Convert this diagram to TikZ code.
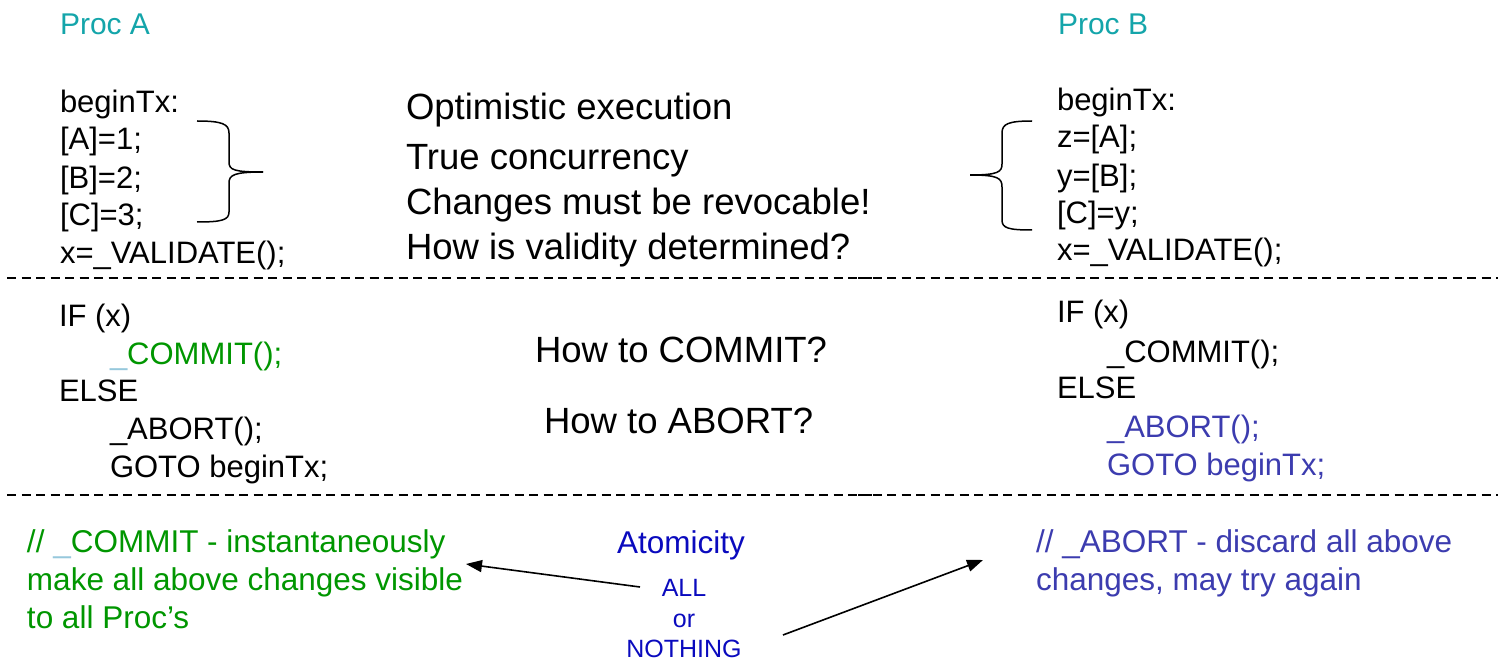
\documentclass[tikz,border=0pt]{standalone}
\usepackage{fontspec}
\setmainfont{Liberation Sans}
\usetikzlibrary{arrows.meta}
\definecolor{procteal}{RGB}{20,165,170}
\definecolor{commitgreen}{RGB}{0,150,0}
\definecolor{abortblue}{RGB}{60,60,175}
\definecolor{atomblue}{RGB}{10,10,190}
\definecolor{ulblue}{RGB}{150,200,220}
\tikzset{
  txt/.style={anchor=base west, inner sep=0pt, outer sep=0pt},
  code/.style={txt, font=\fontsize{31}{37}\selectfont},
  big/.style={txt, font=\fontsize{36.5}{44}\selectfont},
  proc/.style={txt, font=\fontsize{30}{36}\selectfont, text=procteal},
  note/.style={txt, font=\fontsize{31.5}{38}\selectfont},
  atom/.style={anchor=base, inner sep=0pt, font=\fontsize{31.5}{38}\selectfont, text=atomblue},
  atomsmall/.style={anchor=base, inner sep=0pt, font=\fontsize{25}{30}\selectfont, text=atomblue},
  divider/.style={dash pattern=on 9pt off 5.5pt, line width=1.6pt},
  brace/.style={line width=1.5pt},
  pointer/.style={line width=1.6pt, -{Triangle[length=16pt,width=12pt]}},
}
\begin{document}
\begin{tikzpicture}[x=1pt,y=-1pt]
\path[use as bounding box] (0,0) rectangle (1498,660);

% process headings
\node[proc] (procA) at (60,35) {Proc A};
\node[proc] (procB) at (1058,35) {Proc B};

% Proc A transaction body
\node[code] (aBegin) at (60,113) {beginTx:};
\node[code] (aA)     at (60,150) {[A]=1;};
\node[code] (aB)     at (60,189) {[B]=2;};
\node[code] (aC)     at (60,226) {[C]=3;};
\node[code] (aVal)   at (60,263) {x=\_VALIDATE();};

% Proc B transaction body
\node[code] (bBegin) at (1057,111) {beginTx:};
\node[code] (bA)     at (1057,148) {z=[A];};
\node[code] (bB)     at (1057,187) {y=[B];};
\node[code] (bC)     at (1057,224) {[C]=y;};
\node[code] (bVal)   at (1057,261) {x=\_VALIDATE();};

% braces around the memory operations
\draw[brace] (197,121) .. controls (222,121) and (229,124) .. (229,133) -- (229,162)
  .. controls (229,170) and (234,172) .. (263,172);
\draw[brace] (263,172) .. controls (234,172) and (229,175) .. (229,183) -- (229,212)
  .. controls (229,220) and (222,222) .. (197,222);
\draw[brace] (1032,121) .. controls (1008,121) and (1002,124) .. (1002,133) -- (1002,164)
  .. controls (1002,172) and (998,175) .. (970,175);
\draw[brace] (970,175) .. controls (998,175) and (1002,178) .. (1002,187) -- (1002,220)
  .. controls (1002,228) and (1008,230) .. (1032,230);

% remarks on the execution phase
\node[big] (m1) at (406,120) {Optimistic execution};
\node[big] (m2) at (406,170) {True concurrency};
\node[big] (m3) at (406,215) {Changes must be revocable!};
\node[big] (m4) at (406,260) {How is validity determined?};

% phase separators
\draw[divider] (7,278) -- (875,278);
\draw[divider] (858,278) -- (1498,278);
\draw[divider] (7,495) -- (875,495);
\draw[divider] (858,495) -- (1498,495);

% Proc A outcome
\node[code] (aIf)    at (59,326) {IF (x)};
\node[code, text=commitgreen] (aCommit) at (110,364) {{\color{ulblue}\_}COMMIT();};
\node[code] (aElse)  at (59,401) {ELSE};
\node[code] (aAbort) at (110,439) {\_ABORT();};
\node[code] (aGoto)  at (110,477) {GOTO beginTx;};

% Proc B outcome
\node[code] (bIf)    at (1057,322) {IF (x)};
\node[code] (bCommit) at (1107,362) {\_COMMIT();};
\node[code] (bElse)  at (1057,398) {ELSE};
\node[code, text=abortblue] (bAbort) at (1107,437) {\_ABORT();};
\node[code, text=abortblue] (bGoto)  at (1107,475) {GOTO beginTx;};

% questions on the outcome phase
\node[big] (qCommit) at (535,362) {How to COMMIT?};
\node[big] (qAbort)  at (544,433) {How to ABORT?};

% commit and abort semantics
\node[note, text=commitgreen] (cn1) at (27,552) {// {\color{ulblue}\_}COMMIT - instantaneously};
\node[note, text=commitgreen] (cn2) at (27,590) {make all above changes visible};
\node[note, text=commitgreen] (cn3) at (27,628) {to all Proc’s};
\node[note, text=abortblue] (an1) at (1036,552) {// \_ABORT - discard all above};
\node[note, text=abortblue] (an2) at (1036,590) {changes, may try again};

% atomicity
\node[atom] (atom) at (681,553) {Atomicity};
\node[atomsmall] (all) at (684,596) {ALL};
\node[atomsmall] (or) at (684,627) {or};
\node[atomsmall] (nothing) at (684,657) {NOTHING};

\coordinate (allTail) at (640,587);
\coordinate (commitTip) at (466,564);
\coordinate (nothingTail) at (783,635);
\coordinate (abortTip) at (983,560);
\draw[pointer] (allTail) -- (commitTip);
\draw[pointer] (nothingTail) -- (abortTip);
\end{tikzpicture}
\end{document}
